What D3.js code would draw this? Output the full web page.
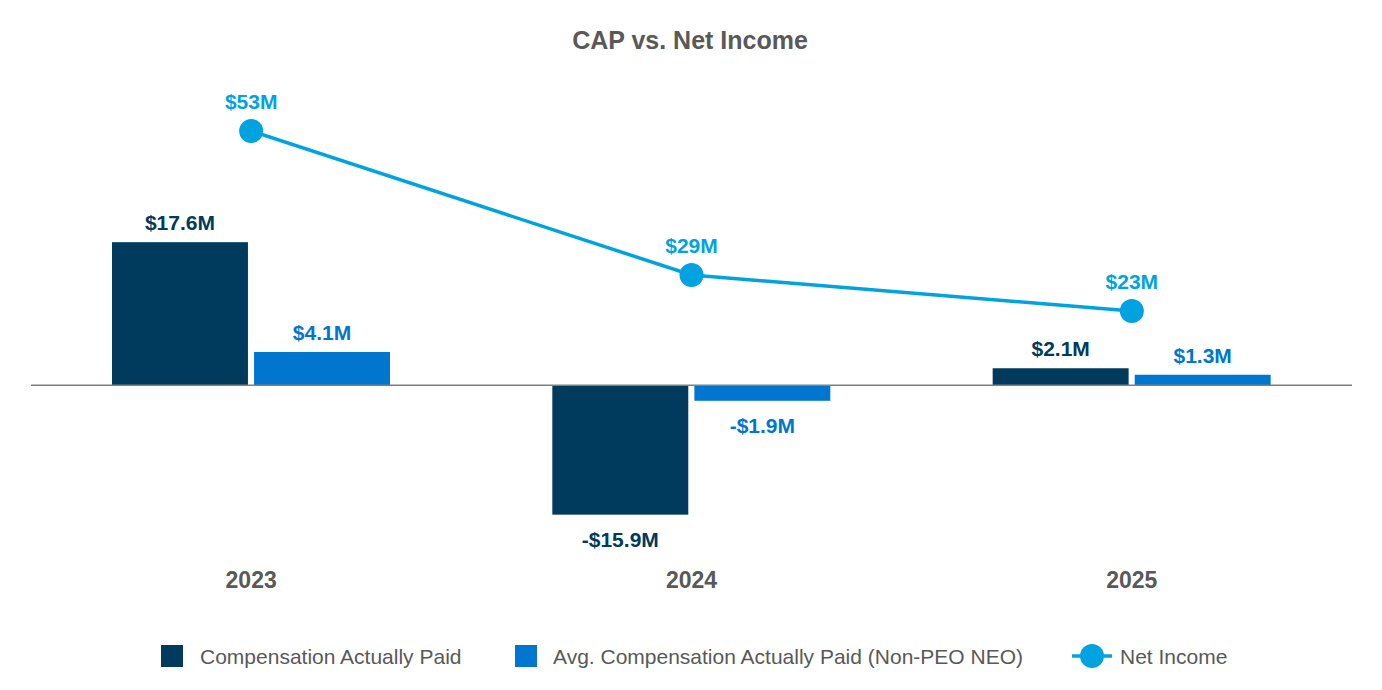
<!DOCTYPE html>
<html><head><meta charset="UTF-8">
<script src="https://cdn.jsdelivr.net/npm/d3@7"></script>
<style>
  body { margin: 0; background: #fff; }
  text { font-family: "Liberation Sans", Arial, sans-serif; }
</style>
</head>
<body>
<svg width="1382" height="690"></svg>
<script>
// chart data
const years = ["2023", "2024", "2025"];
const cap = [17.6, -15.9, 2.1];
const avgCap = [4.1, -1.9, 1.3];
const netIncome = [53, 29, 23];
const seriesNames = ["Compensation Actually Paid", "Avg. Compensation Actually Paid (Non-PEO NEO)", "Net Income"];

const dark = "#003a5c", blue = "#0076ce", lineCol = "#00a3e0", grey = "#595959";

let svg = d3.select("svg");

let rows = years.map((y, i) => ({year: y, cap: cap[i], avg: avgCap[i], ni: netIncome[i]}));

let x0 = d3.scaleBand().domain(years).range([31, 1352]).padding(0);
let x1 = d3.scaleBand().domain(["cap", "avg"]).range([81, 359]).paddingInner(0.043);
let yBar = d3.scaleLinear().domain([-20, 40]).range([548, 60]);
let yLine = d3.scaleLinear().domain([0, 60]).range([449, 89]);

svg.append("text")
  .attr("x", 690).attr("y", 49)
  .attr("text-anchor", "middle")
  .style("font-size", "25px").style("font-weight", "bold")
  .style("fill", grey)
  .text("CAP vs. Net Income");

// bars
let groups = svg.append("g").selectAll("g")
  .data(rows).enter().append("g")
  .attr("transform", d => "translate(" + x0(d.year) + ",0)");

let barData = d => [
  {key: "cap", v: d.cap, color: dark},
  {key: "avg", v: d.avg, color: blue}
];

groups.selectAll("rect")
  .data(barData).enter().append("rect")
  .attr("x", d => x1(d.key))
  .attr("width", x1.bandwidth())
  .attr("y", d => yBar(Math.max(0, d.v)))
  .attr("height", d => Math.abs(yBar(d.v) - yBar(0)))
  .attr("fill", d => d.color);

groups.selectAll("text.val")
  .data(barData).enter().append("text")
  .attr("class", "val")
  .attr("x", d => x1(d.key) + x1.bandwidth() / 2)
  .attr("y", d => d.v >= 0 ? yBar(d.v) - 12 : yBar(d.v) + 32)
  .attr("text-anchor", "middle")
  .style("font-size", "21px").style("font-weight", "bold")
  .style("fill", d => d.color)
  .text(d => (d.v < 0 ? "-$" : "$") + Math.abs(d.v).toFixed(1) + "M");

// zero line
svg.append("line")
  .attr("x1", 31).attr("x2", 1352)
  .attr("y1", yBar(0)).attr("y2", yBar(0))
  .attr("stroke", "#808080").attr("stroke-width", 1.5);

// year labels
svg.append("g").selectAll("text")
  .data(years).enter().append("text")
  .attr("x", d => x0(d) + x0.bandwidth() / 2)
  .attr("y", 588)
  .attr("text-anchor", "middle")
  .style("font-size", "23px").style("font-weight", "bold")
  .style("fill", grey)
  .text(d => d);

// net income line
let cx = d => x0(d.year) + x0.bandwidth() / 2;
svg.append("path")
  .datum(rows)
  .attr("fill", "none")
  .attr("stroke", lineCol)
  .attr("stroke-width", 3.5)
  .attr("d", d3.line().x(cx).y(d => yLine(d.ni)));

svg.append("g").selectAll("circle")
  .data(rows).enter().append("circle")
  .attr("cx", cx).attr("cy", d => yLine(d.ni))
  .attr("r", 12).attr("fill", lineCol);

svg.append("g").selectAll("text")
  .data(rows).enter().append("text")
  .attr("x", cx).attr("y", d => yLine(d.ni) - 22)
  .attr("text-anchor", "middle")
  .style("font-size", "21px").style("font-weight", "bold")
  .style("fill", lineCol)
  .text(d => "$" + d.ni + "M");

// legend
let legend = svg.append("g");
legend.append("rect").attr("x", 161).attr("y", 645).attr("width", 22).attr("height", 22).attr("fill", dark);
legend.append("rect").attr("x", 515).attr("y", 645).attr("width", 22).attr("height", 22).attr("fill", blue);
legend.append("line").attr("x1", 1072).attr("x2", 1112).attr("y1", 656).attr("y2", 656)
  .attr("stroke", lineCol).attr("stroke-width", 3.5);
legend.append("circle").attr("cx", 1092).attr("cy", 656).attr("r", 12).attr("fill", lineCol);

let legX = [200, 553, 1120];
legend.selectAll("text")
  .data(seriesNames).enter().append("text")
  .attr("x", (d, i) => legX[i]).attr("y", 664)
  .style("font-size", "21px")
  .style("fill", grey)
  .text(d => d);
</script>
</body></html>
